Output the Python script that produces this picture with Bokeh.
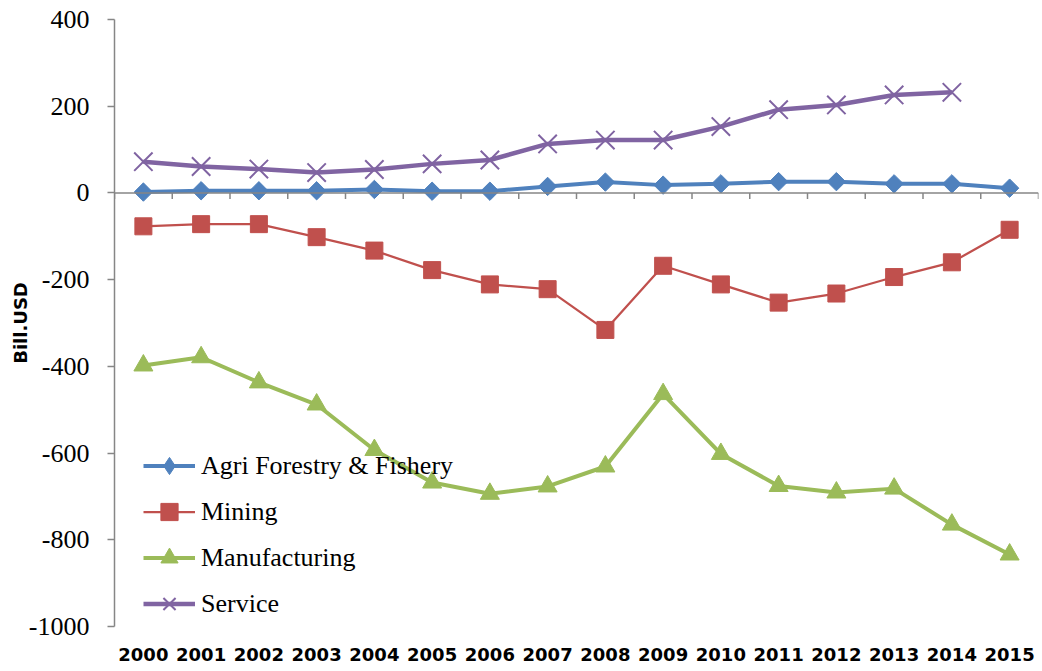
import math
from bokeh.plotting import figure
from bokeh.models import FixedTicker, Span, Legend, LinearAxis, Range1d, PrintfTickFormatter
from bokeh.embed import file_html
from bokeh.resources import INLINE

years = list(range(2000, 2016))
agri = [2, 5, 5, 5, 8, 4, 4, 15, 25, 18, 21, 26, 26, 21, 21, 11]
mining = [-77, -72, -72, -102, -133, -178, -211, -222, -316, -168, -211, -253, -232, -194, -160, -85]
manufacturing = [-398, -379, -437, -488, -593, -668, -694, -677, -631, -464, -602, -676, -691, -682, -765, -834]
service = [72, 61, 55, 47, 54, 67, 76, 113, 122, 122, 153, 192, 203, 226, 232]
service_years = years[:len(service)]
y_ticks = [-1000, -800, -600, -400, -200, 0, 200, 400]

AXIS_GRAY = "#868686"
SERIF = "Liberation Serif"

p = figure(width=1042, height=671, output_backend="svg", toolbar_location=None,
           x_range=Range1d(1999.5, 2015.5), y_range=Range1d(-1000, 400),
           x_axis_location=None, y_axis_location="left")
p.min_border_left = 114
p.min_border_right = 4
p.min_border_top = 19
p.min_border_bottom = 45
p.outline_line_color = None
p.xgrid.visible = False
p.ygrid.visible = False
p.background_fill_color = "white"
p.border_fill_color = "white"

# y axis
ya = p.yaxis[0]
ya.ticker = FixedTicker(ticks=y_ticks)
ya.formatter = PrintfTickFormatter(format="%d")
ya.axis_line_color = AXIS_GRAY
ya.axis_line_width = 1.5
ya.major_tick_line_color = AXIS_GRAY
ya.major_tick_line_width = 1.5
ya.major_tick_out = 7
ya.major_tick_in = 0
ya.minor_tick_line_color = None
ya.major_label_text_font = SERIF
ya.major_label_text_font_size = "26px"
ya.major_label_text_color = "black"
ya.major_label_standoff = 18
ya.axis_label = "Bill.USD"
ya.axis_label_text_font = "DejaVu Sans"
ya.axis_label_text_font_style = "bold"
ya.axis_label_text_font_size = "18px"
ya.axis_label_text_color = "black"
ya.axis_label_standoff = -5

# x axis labels (bottom, labels only)
xa = LinearAxis(ticker=FixedTicker(ticks=years))
xa.axis_line_color = None
xa.major_tick_line_color = None
xa.minor_tick_line_color = None
xa.major_label_text_font = "DejaVu Sans"
xa.major_label_text_font_style = "bold"
xa.major_label_text_font_size = "18px"
xa.major_label_text_color = "black"
xa.major_label_standoff = 15
p.add_layout(xa, "below")

# category axis line crossing at zero, with tick marks between categories
p.add_layout(Span(location=0, dimension="width", line_color=AXIS_GRAY, line_width=1.5))
bounds = [years[0] - 0.5] + [y + 0.5 for y in years]
tick_len = 14
p.segment(x0=bounds, y0=[0] * len(bounds), x1=bounds, y1=[-tick_len] * len(bounds),
          line_color=AXIS_GRAY, line_width=1.5)

c_agri = "#4F81BD"
c_min = "#C0504D"
c_man = "#9BBB59"
c_ser = "#8064A2"

r1 = p.line(years, agri, line_color=c_agri, line_width=4)
m1 = p.scatter(years, agri, marker="square", size=13, angle=math.pi / 4,
               fill_color=c_agri, line_color=c_agri)
# legend-only diamond (zero size on the plot)
m1_leg = p.scatter(years[:1], agri[:1], marker="diamond", size=0,
                   fill_color=c_agri, line_color=c_agri)
r2 = p.line(years, mining, line_color=c_min, line_width=2.25)
m2 = p.scatter(years, mining, marker="square", size=17, fill_color=c_min, line_color=c_min)
r3 = p.line(years, manufacturing, line_color=c_man, line_width=4)
m3 = p.scatter(years, manufacturing, marker="triangle", size=19, fill_color=c_man, line_color=c_man)
r4 = p.line(service_years, service, line_color=c_ser, line_width=4.5)
m4 = p.scatter(service_years, service, marker="x", size=26, line_color=c_ser, line_width=2)

legend = Legend(items=[("Agri Forestry & Fishery", [r1, m1_leg]),
                       ("Mining", [r2, m2]),
                       ("Manufacturing", [r3, m3]),
                       ("Service", [r4, m4])],
                location=(29, 1))
legend.label_text_font = SERIF
legend.label_text_font_size = "26px"
legend.label_text_color = "black"
legend.glyph_width = 52
legend.glyph_height = 43
legend.label_height = 43
legend.spacing = 3
legend.label_standoff = 6
legend.padding = 0
legend.margin = 0
legend.border_line_alpha = 0
legend.background_fill_alpha = 0
p.add_layout(legend, "center")

open("out.html", "w").write(file_html(p, INLINE))
